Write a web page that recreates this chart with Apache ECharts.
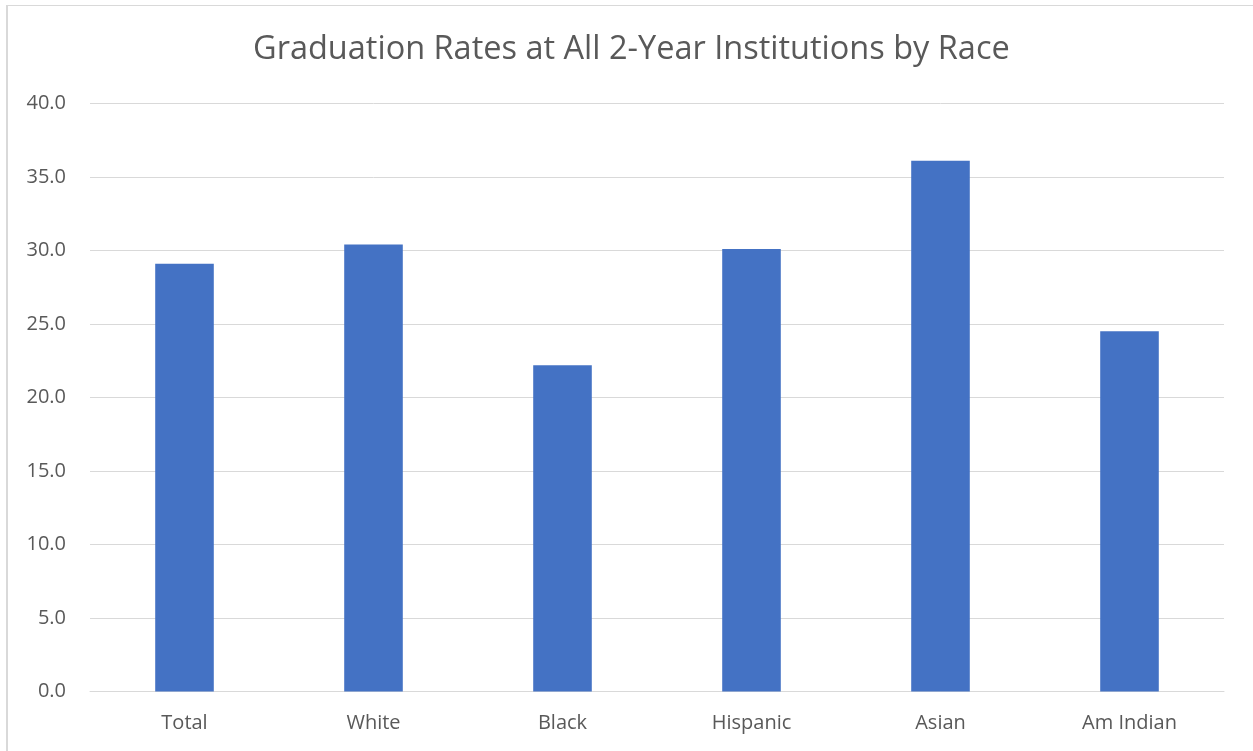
<!DOCTYPE html>
<html>
<head>
<meta charset="utf-8">
<script src="https://cdn.jsdelivr.net/npm/echarts@6/dist/echarts.min.js"></script>
<style>
  html, body { margin: 0; padding: 0; background: #fff; overflow: hidden; }
  #frame { position: absolute; left: 6px; top: 5px; width: 1300px; height: 800px;
           border-top: 1px solid #d9d9d9; border-left: 2px solid #d9d9d9; }
  #chart { position: absolute; left: 0; top: 0; width: 1253px; height: 751px; }
</style>
</head>
<body>
<div id="frame"></div>
<div id="chart"></div>
<script>
  // categories and values
  var categories = ['Total', 'White', 'Black', 'Hispanic', 'Asian', 'Am Indian'];
  var rates = [29.1, 30.4, 22.2, 30.1, 36.1, 24.5];

  var textColor = '#595959';
  var chart = echarts.init(document.getElementById('chart'));
  chart.setOption({
    animation: false,
    title: {
      text: 'Graduation Rates at All 2-Year Institutions by Race',
      left: 248,
      top: 28,
      textStyle: { fontFamily: 'Open Sans', fontSize: 32.5, fontWeight: 'normal', color: textColor }
    },
    grid: { left: 90, right: 29, top: 103.5, bottom: 59.5 },
    xAxis: {
      type: 'category',
      data: categories,
      axisLine: { lineStyle: { color: '#d9d9d9', width: 1 } },
      axisTick: { show: false },
      axisLabel: { color: textColor, fontFamily: 'Open Sans', fontSize: 20, margin: 22 }
    },
    yAxis: {
      type: 'value',
      min: 0,
      max: 40,
      interval: 5,
      axisLine: { show: false },
      axisTick: { show: false },
      splitLine: { lineStyle: { color: '#d9d9d9', width: 1 } },
      axisLabel: {
        color: textColor, fontFamily: 'Open Sans', fontSize: 20, margin: 24,
        formatter: function (v) { return v.toFixed(1); }
      }
    },
    series: [{
      type: 'bar',
      data: rates,
      barWidth: '31%',
      itemStyle: { color: '#4472C4' }
    }]
  });
</script>
</body>
</html>
